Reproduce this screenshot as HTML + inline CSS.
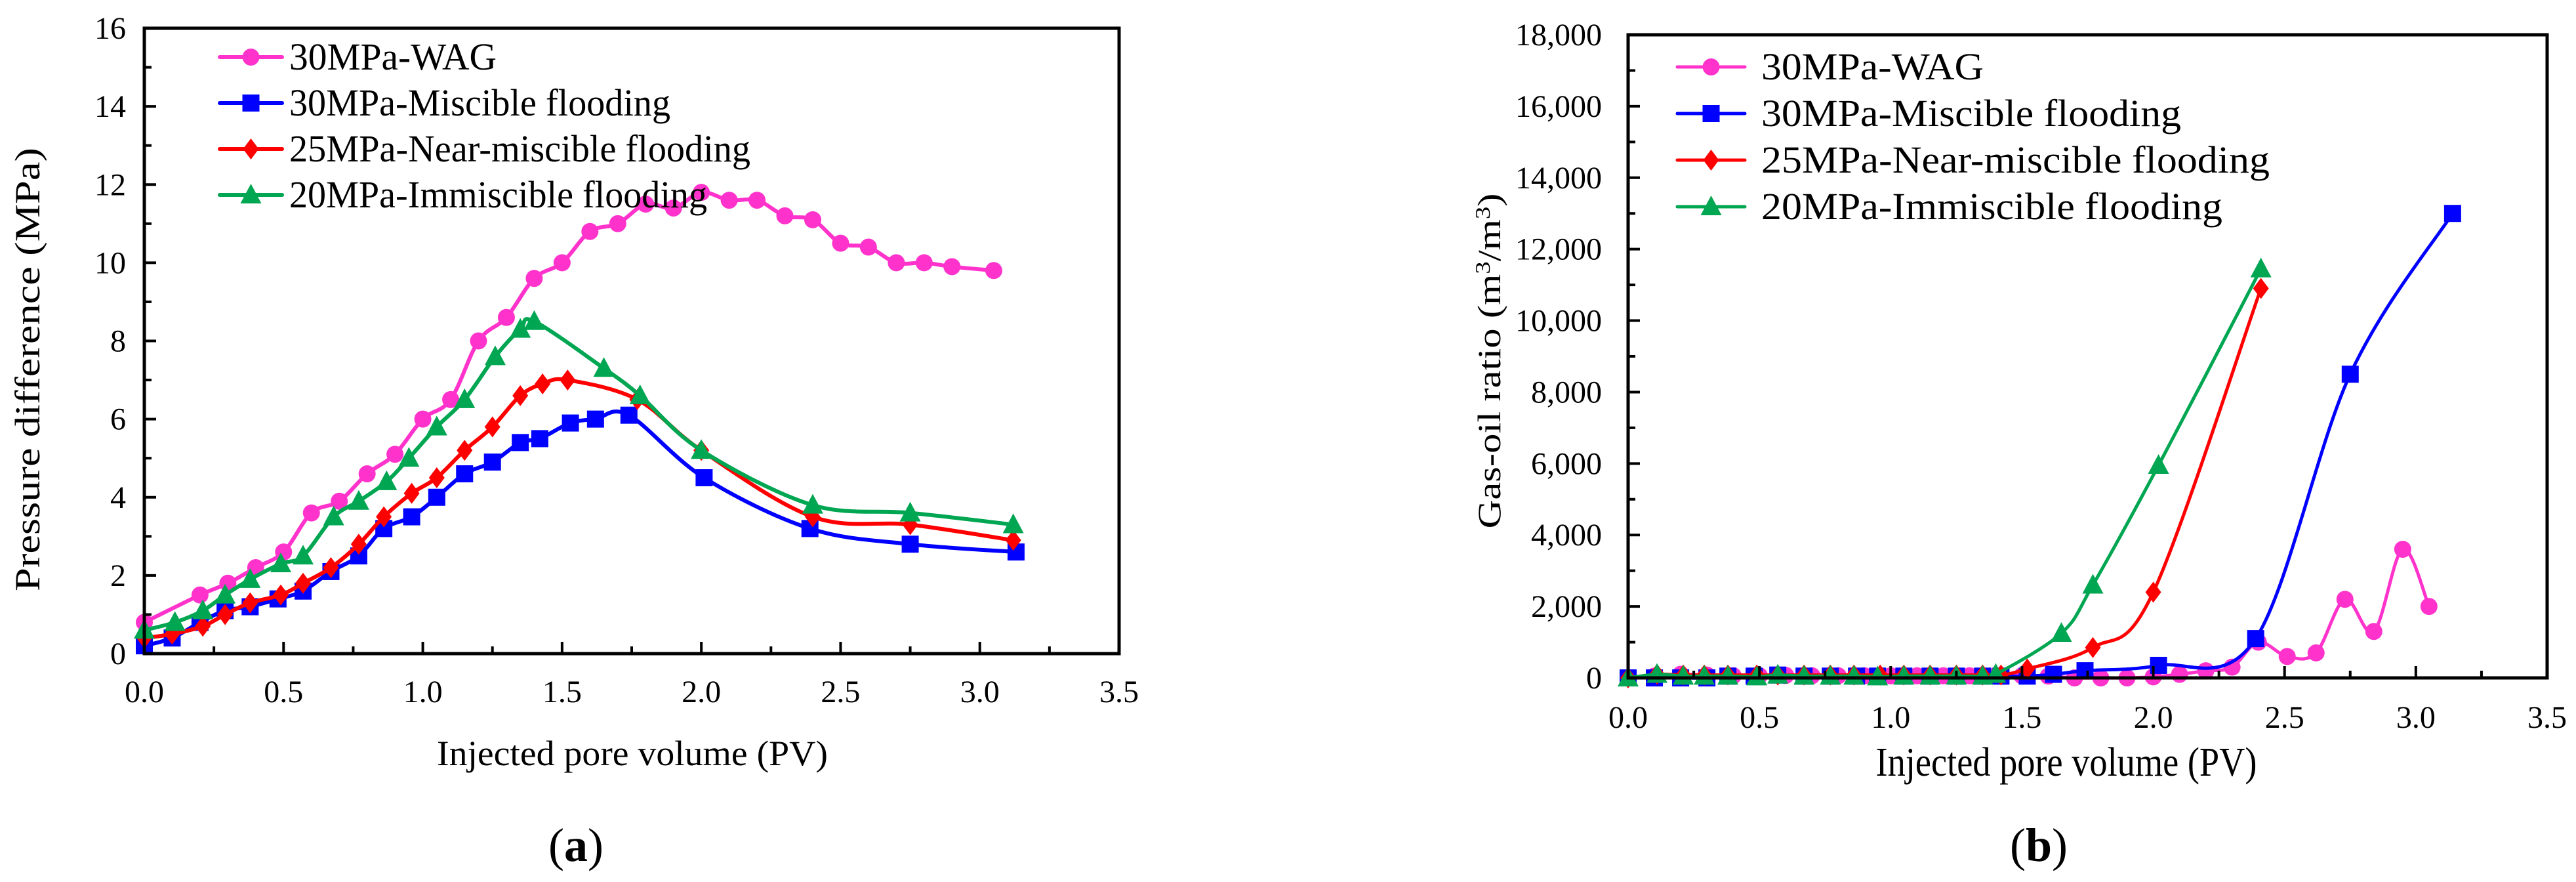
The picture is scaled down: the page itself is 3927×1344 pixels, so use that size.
<!DOCTYPE html>
<html><head><meta charset="utf-8"><style>
html,body{margin:0;padding:0;background:#fff}
svg{display:block}
text{font-family:"Liberation Serif","Times New Roman",serif;fill:#000}
</style></head><body>
<svg id="fig" width="3927" height="1344" viewBox="0 0 3927 1344" xmlns="http://www.w3.org/2000/svg"></svg>
<script>
// ---------- Chart (a) data ----------
const aWagX=[0,0.2,0.3,0.4,0.5,0.6,0.7,0.8,0.9,1.0,1.1,1.2,1.3,1.4,1.5,1.6,1.7,1.8,1.9,2.0,2.1,2.2,2.3,2.4,2.5,2.6,2.7,2.8,2.9,3.05];
const aWagY=[0.8,1.5,1.8,2.2,2.6,3.6,3.9,4.6,5.1,6.0,6.5,8.0,8.6,9.6,10.0,10.8,11.0,11.5,11.4,11.8,11.6,11.6,11.2,11.1,10.5,10.4,10.0,10.0,9.9,9.8];
const aMisX=[0,0.1,0.2,0.29,0.38,0.48,0.57,0.67,0.77,0.86,0.96,1.05,1.15,1.25,1.35,1.42,1.53,1.62,1.74,2.01,2.39,2.75,3.13];
const aMisY=[0.2,0.4,0.8,1.1,1.2,1.4,1.6,2.1,2.5,3.2,3.5,4.0,4.6,4.9,5.4,5.5,5.9,6.0,6.1,4.5,3.2,2.8,2.6];
const aNearX=[0,0.1,0.21,0.29,0.38,0.49,0.57,0.67,0.77,0.86,0.96,1.05,1.15,1.25,1.35,1.43,1.52,1.77,2.0,2.4,2.75,3.12];
const aNearY=[0.4,0.5,0.7,1.0,1.3,1.5,1.8,2.2,2.8,3.5,4.1,4.5,5.2,5.8,6.6,6.9,7.0,6.5,5.2,3.5,3.3,2.9];
const aImmX=[0,0.11,0.21,0.29,0.38,0.49,0.57,0.68,0.77,0.87,0.95,1.05,1.15,1.26,1.35,1.4,1.65,1.78,2.0,2.4,2.75,3.12];
const aImmY=[0.6,0.8,1.1,1.5,1.9,2.3,2.5,3.5,3.9,4.4,5.0,5.8,6.5,7.6,8.3,8.5,7.3,6.6,5.2,3.8,3.6,3.3];
const aXTicks=["0.0","0.5","1.0","1.5","2.0","2.5","3.0","3.5"];
const aYTicks=["0","2","4","6","8","10","12","14","16"];
// ---------- Chart (b) data ----------
const bWagX=[0,0.1,0.2,0.3,0.4,0.5,0.6,0.7,0.8,0.9,1.0,1.1,1.2,1.3,1.4,1.5,1.6,1.7,1.8,1.9,2.0,2.1,2.2,2.3,2.4,2.51,2.62,2.73,2.84,2.95,3.05];
const bWagY=[0,50,100,80,60,60,70,60,60,60,60,60,60,60,60,60,50,0,0,0,30,100,200,300,1000,600,700,2200,1300,3600,2000];
const bMisX=[0,0.1,0.2,0.3,0.38,0.48,0.57,0.67,0.77,0.87,0.95,1.05,1.15,1.25,1.35,1.42,1.52,1.62,1.74,2.02,2.39,2.75,3.14];
const bMisY=[0,0,0,0,50,50,80,50,50,50,50,50,50,50,50,50,50,100,200,350,1100,8500,13000];
const bNearX=[0,0.11,0.21,0.29,0.38,0.49,0.57,0.67,0.77,0.86,0.96,1.05,1.15,1.25,1.35,1.42,1.52,1.77,2.0,2.41];
const bNearY=[0,100,80,80,80,80,80,80,80,80,80,80,80,80,80,80,250,850,2400,10900];
const bImmX=[0,0.11,0.21,0.29,0.38,0.49,0.57,0.67,0.77,0.86,0.95,1.05,1.15,1.25,1.35,1.4,1.65,1.77,2.02,2.41];
const bImmY=[0,100,50,50,50,30,80,50,50,50,30,50,50,50,50,100,1250,2600,5950,11450];
const bXTicks=["0.0","0.5","1.0","1.5","2.0","2.5","3.0","3.5"];
const bYTicks=["0","2,000","4,000","6,000","8,000","10,000","12,000","14,000","16,000","18,000"];

const NS="http://www.w3.org/2000/svg";
const svg=document.getElementById('fig');
function mk(tag,attrs,parent){const e=document.createElementNS(NS,tag);for(const k in attrs)e.setAttribute(k,attrs[k]);(parent||svg).appendChild(e);return e;}
function txt(s,attrs,parent){const e=mk('text',attrs,parent);e.textContent=s;return e;}

function smoothPath(pts){
  if(pts.length<2)return '';
  let d='M'+pts[0][0]+','+pts[0][1];
  for(let i=0;i<pts.length-1;i++){
    const p0=pts[i-1]||pts[i],p1=pts[i],p2=pts[i+1],p3=pts[i+2]||p2;
    const c1x=p1[0]+(p2[0]-p0[0])/6,c1y=p1[1]+(p2[1]-p0[1])/6;
    const c2x=p2[0]-(p3[0]-p1[0])/6,c2y=p2[1]-(p3[1]-p1[1])/6;
    d+=' C'+c1x.toFixed(1)+','+c1y.toFixed(1)+' '+c2x.toFixed(1)+','+c2y.toFixed(1)+' '+p2[0].toFixed(1)+','+p2[1].toFixed(1);
  }
  return d;
}
function marker(g,kind,x,y,color,s){
  let e;
  if(kind==='circle')e=mk('circle',{cx:x,cy:y,r:13*s,fill:color},g);
  else if(kind==='square')e=mk('rect',{x:x-13*s,y:y-13*s,width:26*s,height:26*s,fill:color},g);
  else if(kind==='diamond')e=mk('polygon',{points:`${x},${y-16*s} ${x+12*s},${y} ${x},${y+16*s} ${x-12*s},${y}`,fill:color},g);
  else e=mk('polygon',{points:`${x},${y-17*s} ${x+16*s},${y+13*s} ${x-16*s},${y+13*s}`,fill:color},g);
  return e;
}

function drawChart(cfg){
  const g=mk('g',{});
  
  
  const sx=v=>cfg.x0+(v-cfg.xmin)/(cfg.xmax-cfg.xmin)*(cfg.x1-cfg.x0);
  const sy=v=>cfg.y0-(v-cfg.ymin)/(cfg.ymax-cfg.ymin)*(cfg.y0-cfg.y1);
  cfg.series.forEach(s=>{
    const sg=mk('g',{},g);
    
    
    const pts=s.x.map((xv,i)=>[sx(xv),sy(s.y[i])]);
    const p=mk('path',{d:smoothPath(pts),fill:'none',stroke:s.color,'stroke-width':cfg.lw,'stroke-linejoin':'round'},sg);
    
    
    pts.forEach(pt=>{
      const m=marker(sg,s.kind,pt[0],pt[1],s.color,1);
      
      
    });
  });
  const fr=mk('rect',{x:cfg.x0,y:cfg.y1,width:cfg.x1-cfg.x0,height:cfg.y0-cfg.y1,fill:'none',stroke:'#000','stroke-width':5},g);
  
  
  const xt=mk('g',{},g);
  
  
  cfg.xTicks.forEach((lab,i)=>{
    const v=cfg.xmin+i*0.5, x=sx(v);
    mk('line',{x1:x,y1:cfg.y0,x2:x,y2:cfg.y0-18,stroke:'#000','stroke-width':4},xt);
    if(i<cfg.xTicks.length-1){const xm=sx(v+0.25);mk('line',{x1:xm,y1:cfg.y0,x2:xm,y2:cfg.y0-11,stroke:'#000','stroke-width':4},xt);}
    const t=txt(lab,{x:x,y:cfg.y0+cfg.xlabOff,'font-size':cfg.tickFs,'text-anchor':'middle'},xt);
    
    
  });
  const yt=mk('g',{},g);
  
  
  const ystep=(cfg.ymax-cfg.ymin)/(cfg.yTicks.length-1);
  cfg.yTicks.forEach((lab,i)=>{
    const v=cfg.ymin+i*ystep, y=sy(v);
    mk('line',{x1:cfg.x0,y1:y,x2:cfg.x0+18,y2:y,stroke:'#000','stroke-width':4},yt);
    if(i<cfg.yTicks.length-1){const ym=sy(v+ystep/2);mk('line',{x1:cfg.x0,y1:ym,x2:cfg.x0+11,y2:ym,stroke:'#000','stroke-width':4},yt);}
    const t=txt(lab,{x:cfg.x0-cfg.ylabOff,y:y+16,'font-size':cfg.tickFs,'text-anchor':'end'},yt);
    
    
  });
  const lg=mk('g',{},g);
  
  
  cfg.series.forEach((s,i)=>{
    const y=cfg.legY+i*cfg.legDy;
    const eg=mk('g',{},lg);
    
    
    mk('line',{x1:cfg.legX0,y1:y,x2:cfg.legX1,y2:y,stroke:s.color,'stroke-width':cfg.lw,'stroke-linecap':'round'},eg);
    marker(eg,s.kind,(cfg.legX0+cfg.legX1)/2,y,s.color,1);
    txt(s.label,{x:cfg.legTx,y:y+19,'font-size':cfg.legFs,textLength:cfg.legW[i],lengthAdjust:'spacingAndGlyphs'},eg);
  });
  const xtt=txt(cfg.xTitle,{x:cfg.xTitleX,y:cfg.xTitleY,'font-size':cfg.xTitleFs,'text-anchor':'middle',textLength:cfg.xTitleW,lengthAdjust:'spacingAndGlyphs'},g);
  
  
  const ytt=txt('',{x:0,y:0,'font-size':cfg.yTitleFs,'text-anchor':'middle',textLength:cfg.yTitleW,lengthAdjust:'spacingAndGlyphs',transform:`translate(${cfg.yTitleX},${cfg.yTitleY}) rotate(-90)`},g);
  ytt.innerHTML=cfg.yTitle;
  
  
  const pl=txt('',{x:cfg.panelX,y:cfg.panelY,'font-size':72,'text-anchor':'middle'},g);
  pl.innerHTML='(<tspan font-weight="bold">'+cfg.panel+'</tspan>)';
  
  
}

drawChart({name:'chart-a-pressure-difference',x0:220,x1:1706,y0:996,y1:43,xmin:0,xmax:3.5,ymin:0,ymax:16,
  xTicks:aXTicks,yTicks:aYTicks,tickFs:48,xlabOff:74,ylabOff:28,lw:6,
  series:[
    {name:'series-30mpa-wag',label:'30MPa-WAG',color:'#ff33cc',kind:'circle',x:aWagX,y:aWagY},
    {name:'series-30mpa-miscible',label:'30MPa-Miscible flooding',color:'#0000ff',kind:'square',x:aMisX,y:aMisY},
    {name:'series-25mpa-near-miscible',label:'25MPa-Near-miscible flooding',color:'#ff0000',kind:'diamond',x:aNearX,y:aNearY},
    {name:'series-20mpa-immiscible',label:'20MPa-Immiscible flooding',color:'#00a651',kind:'triangle',x:aImmX,y:aImmY}],
  legX0:335,legX1:430,legTx:441,legY:87,legDy:70,legFs:58,legW:[316,581,703,637],
  xTitle:'Injected pore volume (PV)',xTitleX:964,xTitleY:1166,xTitleFs:54,xTitleW:596,
  yTitle:'Pressure difference (MPa)',yTitleX:60,yTitleY:563,yTitleFs:54,yTitleW:676,
  panel:'a',panelX:878,panelY:1312});

drawChart({name:'chart-b-gas-oil-ratio',x0:2482,x1:3883,y0:1033,y1:53,xmin:0,xmax:3.5,ymin:0,ymax:18000,
  xTicks:bXTicks,yTicks:bYTicks,tickFs:48,xlabOff:76,ylabOff:40,lw:5,
  series:[
    {name:'series-30mpa-wag',label:'30MPa-WAG',color:'#ff33cc',kind:'circle',x:bWagX,y:bWagY},
    {name:'series-30mpa-miscible',label:'30MPa-Miscible flooding',color:'#0000ff',kind:'square',x:bMisX,y:bMisY},
    {name:'series-25mpa-near-miscible',label:'25MPa-Near-miscible flooding',color:'#ff0000',kind:'diamond',x:bNearX,y:bNearY},
    {name:'series-20mpa-immiscible',label:'20MPa-Immiscible flooding',color:'#00a651',kind:'triangle',x:bImmX,y:bImmY}],
  legX0:2557,legX1:2660,legTx:2685,legY:102,legDy:71,legFs:58,legW:[339,640,775,703],
  xTitle:'Injected pore volume (PV)',xTitleX:3150,xTitleY:1182,xTitleFs:62,xTitleW:581,
  yTitle:'Gas-oil ratio (m<tspan font-size="32" dy="-16">3</tspan><tspan dy="16">/m</tspan><tspan font-size="32" dy="-16">3</tspan><tspan dy="16">)</tspan>',yTitleX:2287,yTitleY:550,yTitleFs:50,yTitleW:511,
  panel:'b',panelX:3108,panelY:1312});
</script>
</body></html>
